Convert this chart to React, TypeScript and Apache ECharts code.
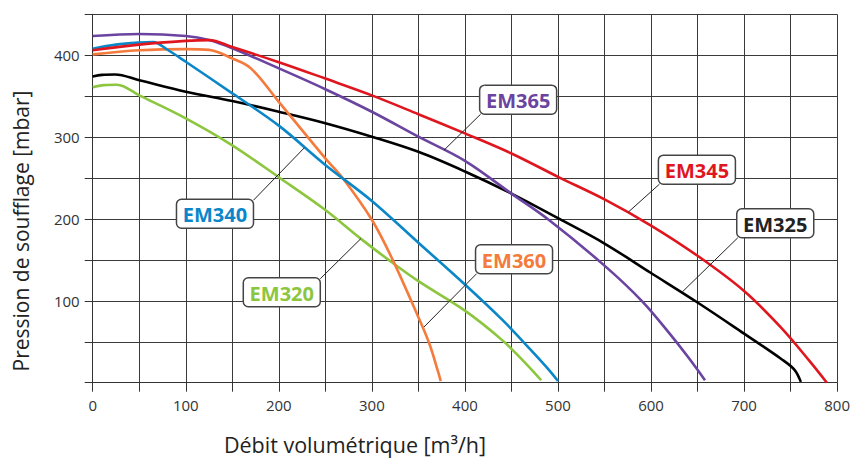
import React, { useEffect, useRef } from "react";
import * as echarts from "echarts";

// Flow [m³/h] vs. pressure [mbar] pairs
const em320: number[][] = [[0,361],[12,363.5],[26,364],[50,351],[100,323],[150,290],[200,251],[250,211],[288,176],[318,150],[350,124],[400,88],[440,52],[465,24],[482,3]];
const em325: number[][] = [[0,374],[10,376],[24,376.5],[50,369.5],[100,355.5],[150,344],[200,331],[250,317],[300,300.5],[350,282],[400,258],[450,231],[500,201],[550,170],[600,134],[650,98],[700,60],[740,29],[754,16],[761,1]];
const em340: number[][] = [[0,408],[25,413],[50,415.5],[65,416],[80,407],[100,392],[150,353.5],[200,314],[250,266],[300,222],[350,171],[400,120],[440,77],[470,41],[490,16],[500,2]];
const em345: number[][] = [[0,406],[50,413],[100,417.5],[125,418.5],[150,410],[200,391.5],[250,371.5],[300,351],[350,328],[400,304.5],[450,280],[500,251.5],[550,224],[600,192],[650,155],[700,112],[740,67],[770,27],[789,0]];
const em360: number[][] = [[0,401],[50,406],[100,407.5],[125,406.5],[150,396],[170,384],[200,343],[250,274],[270,248],[300,199],[322,151],[350,80],[362,47],[371,14],[374,2]];
const em365: number[][] = [[0,423.5],[50,426],[100,423.5],[125,418.5],[150,408.5],[200,384],[250,358.5],[300,331],[350,300.5],[400,271],[450,231],[490,199],[550,143],[590,100],[620,60],[640,31],[658,3]];

const seriesNames = ["EM320", "EM325", "EM360", "EM340", "EM365", "EM345"];
const seriesData = [em320, em325, em360, em340, em365, em345];
const seriesColors = ["#8cc63f", "#000000", "#f47b3b", "#0a86c9", "#6a44a0", "#e0161f"];

// Label boxes: box centre and leader anchor on the curve, in data units
const labelNames = ["EM365", "EM345", "EM325", "EM340", "EM320", "EM360"];
const labelColors = ["#6a44a0", "#e0161f", "#222222", "#0a86c9", "#8cc63f", "#f47b3b"];
const labelBoxAt: number[][] = [[457.2,345.7],[649.3,260.2],[733.5,194.7],[131.4,206.4],[203.2,110.5],[452.8,150.8]];
const labelAnchor: number[][] = [[377.5,284],[575.7,208.5],[632.8,110],[227.5,287],[288.2,176],[356,68]];
const labelCorner = ["bl", "bl", "bl", "tr", "tr", "bl"];

const xTitle = "Débit volumétrique [m³/h]";
const yTitle = "Pression de soufflage [mbar]";

export default function App() {
  const ref = useRef<HTMLDivElement>(null);
  useEffect(() => {
    if (!ref.current) return;
    const chart = echarts.init(ref.current, undefined, { renderer: "svg" });
    const font = '"Open Sans", "Noto Sans", sans-serif';
    const axisColor = "#333333";
    chart.setOption({
      animation: false,
      backgroundColor: "#ffffff",
      grid: { left: 92.7, right: 13.7, top: 14.3, bottom: 76.3 },
      xAxis: {
        type: "value", min: 0, max: 800, interval: 50,
        axisLine: { show: true, lineStyle: { color: axisColor, width: 1 } },
        axisTick: { show: true, length: 9, lineStyle: { color: axisColor } },
        axisLabel: {
          margin: 15, fontSize: 15, color: "#333", fontFamily: font,
          formatter: (v: number) => (v % 100 === 0 ? String(v) : ""),
        },
        splitLine: { show: true, lineStyle: { color: "#3a3a3a", width: 1 } },
      },
      yAxis: {
        type: "value", min: 0, max: 450, interval: 50,
        axisLine: { show: true, lineStyle: { color: axisColor, width: 1 } },
        axisTick: { show: true, length: 8, lineStyle: { color: axisColor } },
        axisLabel: {
          margin: 13, fontSize: 15, color: "#333", fontFamily: font,
          formatter: (v: number) => (v % 100 === 0 && v > 0 && v < 450 ? String(v) : ""),
        },
        splitLine: { show: true, lineStyle: { color: "#3a3a3a", width: 1 } },
      },
      series: seriesNames.map((name, i) => ({
        name, type: "line", data: seriesData[i], showSymbol: false, symbol: "none",
        smooth: 0.35,
        lineStyle: { color: seriesColors[i], width: 2.6 },
        z: 2 + i,
      })),
    });

    const bw = 77, bh = 29;
    const elements: any[] = [];
    labelNames.forEach((name, i) => {
      const c = chart.convertToPixel({ gridIndex: 0 }, labelBoxAt[i]) as number[];
      const a = chart.convertToPixel({ gridIndex: 0 }, labelAnchor[i]) as number[];
      const x0 = c[0] - bw / 2, y0 = c[1] - bh / 2;
      const corner = labelCorner[i] === "bl" ? [x0 + 1, y0 + bh] : [x0 + bw, y0 + 1];
      elements.push({
        type: "line", z: 100,
        shape: { x1: corner[0], y1: corner[1], x2: a[0], y2: a[1] },
        style: { stroke: "#222", lineWidth: 1 },
      });
      elements.push({
        type: "rect", z: 101,
        shape: { x: x0, y: y0, width: bw, height: bh, r: 5 },
        style: { fill: "#ffffff", stroke: "#444", lineWidth: 1.5 },
      });
      elements.push({
        type: "text", z: 102, x: c[0], y: c[1] + 1,
        style: {
          text: name, fill: labelColors[i], font: `bold 20px ${font}`,
          align: "center", verticalAlign: "middle",
        },
      });
    });
    elements.push({
      type: "text", x: 355, y: 444,
      style: { text: xTitle, fill: "#222", font: `21.5px ${font}`, align: "center", verticalAlign: "middle" },
    });
    elements.push({
      type: "text", x: 21, y: 231, rotation: Math.PI / 2,
      style: { text: yTitle, fill: "#222", font: `21px ${font}`, align: "center", verticalAlign: "middle" },
    });
    chart.setOption({ graphic: elements });
    return () => chart.dispose();
  }, []);
  return (
    <div
      ref={ref}
      style={{ position: "fixed", left: 0, top: 0, width: 853, height: 459 }}
    />
  );
}
